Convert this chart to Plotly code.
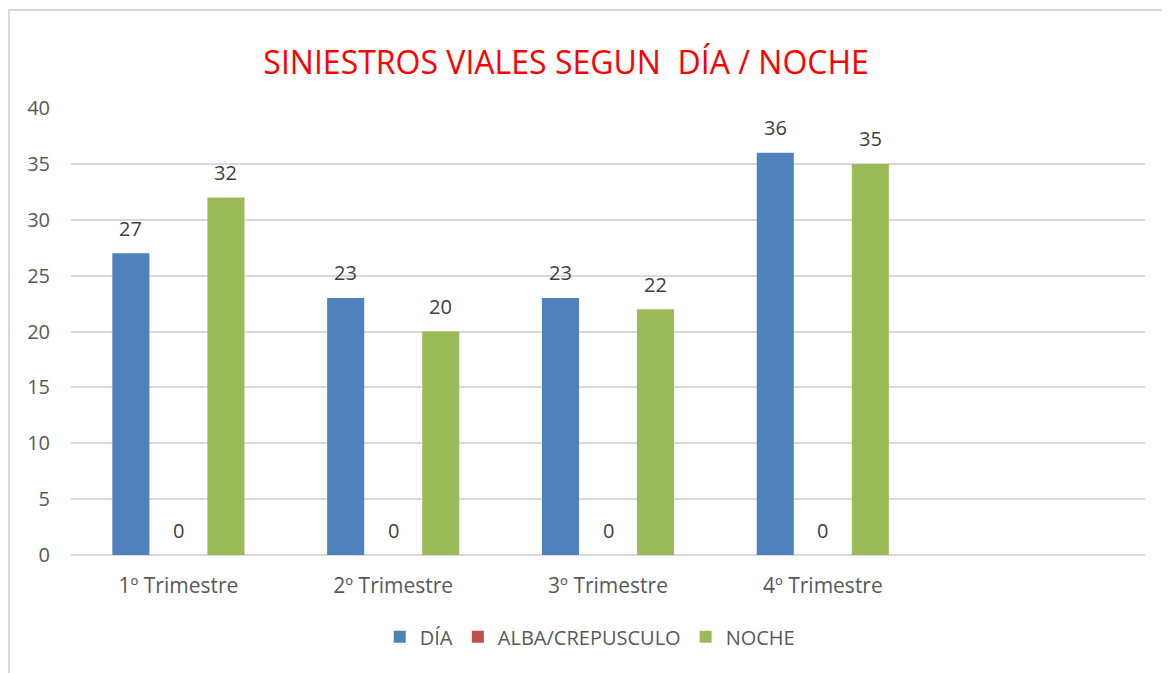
import plotly.graph_objects as go

categories = ["1º Trimestre", "2º Trimestre", "3º Trimestre", "4º Trimestre", " "]
dia = [27, 23, 23, 36]
alba = [0, 0, 0, 0]
noche = [32, 20, 22, 35]

series_names = ["DÍA", "ALBA/CREPUSCULO", "NOCHE"]
colors = ["#4F81BD", "#C0504D", "#9BBB59"]
series_values = [dia, alba, noche]

FONT = "Open Sans"

fig = go.Figure()
for name, vals, col in zip(series_names, series_values, colors):
    fig.add_trace(go.Bar(
        x=categories[:len(vals)], y=vals, name=name,
        marker=dict(color=col, line=dict(width=0)),
    ))

# data labels
offsets = [-47.5, 0, 47.5]
annotations = []
for off, vals in zip(offsets, series_values):
    for cat, v in zip(categories, vals):
        annotations.append(dict(
            x=cat, y=v, xref="x", yref="y", text=str(v), showarrow=False,
            xshift=off, yshift=25, yanchor="middle",
            font=dict(family=FONT, size=20, color="#404040"),
        ))

fig.update_layout(
    width=1170, height=673,
    paper_bgcolor="white", plot_bgcolor="white",
    margin=dict(l=63, r=33, t=100, b=126, autoexpand=False),
    barmode="group", bargap=0.336, bargroupgap=0.22,
    title=dict(text="SINIESTROS VIALES SEGUN  DÍA / NOCHE", x=0.477, xanchor="center",
               y=1 - 55 / 673, yanchor="middle",
               font=dict(family=FONT, size=32, color="#FF0000")),
    showlegend=True,
    legend=dict(orientation="h", x=0.483, xanchor="center", y=-0.183, yanchor="middle",
                font=dict(family=FONT, size=20, color="#595959"),
                itemwidth=30, traceorder="normal"),
    annotations=annotations,
    shapes=[dict(type="rect", xref="paper", yref="paper",
                 x0=-0.0577, x1=1.1, y0=-0.4, y1=1.2192,
                 line=dict(color="#D9D9D9", width=2), fillcolor="rgba(0,0,0,0)")],
)
fig.update_xaxes(categoryorder="array", categoryarray=categories, range=[-0.5, 4.5],
                 showline=False, ticks="", showgrid=False, automargin=False,
                 tickfont=dict(family=FONT, size=21, color="#595959"),
                 ticklabelstandoff=16)
fig.update_yaxes(range=[0, 40], dtick=5, showgrid=True, gridcolor="#D9D9D9", gridwidth=1.5,
                 zeroline=True, zerolinecolor="#D9D9D9", zerolinewidth=1.5,
                 showline=False, ticks="", automargin=False,
                 tickfont=dict(family=FONT, size=20, color="#595959"),
                 ticklabelstandoff=20)

fig.write_html("out.html")
